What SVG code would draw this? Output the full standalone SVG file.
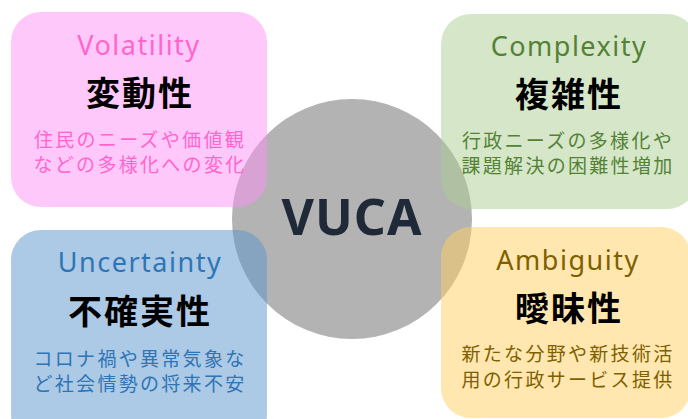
<svg xmlns="http://www.w3.org/2000/svg" width="688" height="419" viewBox="0 0 688 419">
<style>
.box{fill-opacity:0.5}
.en{font-family:"Noto Sans","Liberation Sans",sans-serif;font-size:27px;text-anchor:middle;letter-spacing:1.5px}
.jp{font-family:"Noto Sans CJK JP","Noto Sans",sans-serif;font-size:34px;font-weight:700;text-anchor:middle;letter-spacing:2px;fill:#000}
.ds{font-family:"Noto Sans CJK JP","Noto Sans",sans-serif;font-size:19px;text-anchor:middle;letter-spacing:2.3px}
.vuca{font-family:"Noto Sans","Liberation Sans",sans-serif;font-size:50px;font-weight:700;text-anchor:middle;fill:#1f2937;letter-spacing:1px}
</style>
<rect width="688" height="419" fill="#ffffff"/>
<g id="center">
<circle cx="352" cy="219" r="120" fill="#b3b3b3"/>
</g>
<g id="volatility">
<rect class="box" x="11" y="12" width="256" height="195" rx="30" fill="#ff92f7"/>
<text class="en" x="139" y="55" fill="#ff66cc">Volatility</text>
<text class="jp" x="140" y="106">変動性</text>
<text class="ds" x="140" y="147" fill="#ff66cc">住民のニーズや価値観</text>
<text class="ds" x="140" y="172" fill="#ff66cc">などの多様化への変化</text>
</g>
<g id="complexity">
<rect class="box" x="441" y="14" width="256" height="195" rx="30" fill="#abcd93"/>
<text class="en" x="569" y="56" fill="#548235">Complexity</text>
<text class="jp" x="569" y="107">複雑性</text>
<text class="ds" x="568" y="148" fill="#548235">行政ニーズの多様化や</text>
<text class="ds" x="568" y="173" fill="#548235">課題解決の困難性増加</text>
</g>
<g id="uncertainty">
<rect class="box" x="11" y="230" width="256" height="215" rx="30" fill="#5a94cc"/>
<text class="en" x="140" y="272" fill="#2e75b6">Uncertainty</text>
<text class="jp" x="140" y="324">不確実性</text>
<text class="ds" x="140" y="366" fill="#2e75b6">コロナ禍や異常気象な</text>
<text class="ds" x="140" y="391" fill="#2e75b6">ど社会情勢の将来不安</text>
</g>
<g id="ambiguity">
<rect class="box" x="441" y="227" width="250" height="191" rx="30" fill="#ffcf5f"/>
<text class="en" x="568" y="270" fill="#7f6000">Ambiguity</text>
<text class="jp" x="569" y="321">曖昧性</text>
<text class="ds" x="568" y="361" fill="#7f6000">新たな分野や新技術活</text>
<text class="ds" x="568" y="387" fill="#7f6000">用の行政サービス提供</text>
</g>
<g id="connectors"></g>
<text class="vuca" x="352" y="235">VUCA</text>
</svg>
